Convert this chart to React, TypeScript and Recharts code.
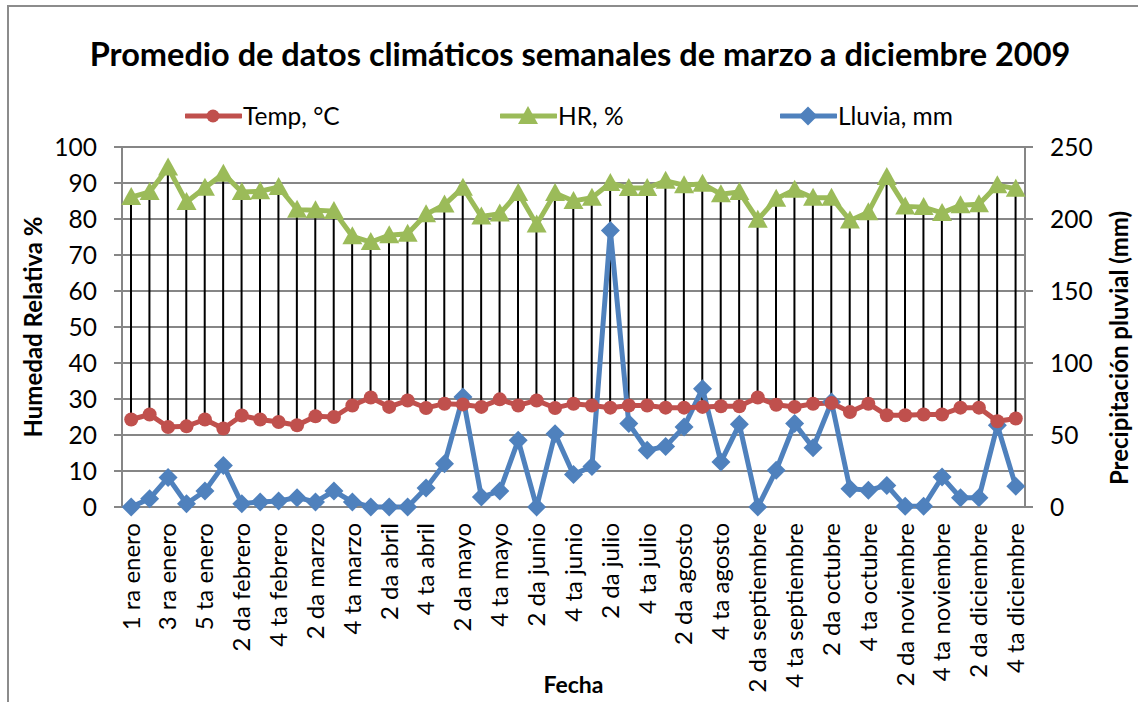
import { ComposedChart, Line, Bar, XAxis, YAxis, CartesianGrid } from 'recharts'

const semanas = [
  '1 ra enero', '2 da enero', '3 ra enero', '4 ta enero', '5 ta enero',
  '1 ra febrero', '2 da febrero', '3 ra febrero', '4 ta febrero',
  '1 ra marzo', '2 da marzo', '3 ra marzo', '4 ta marzo',
  '1 ra abril', '2 da abril', '3 ra abril', '4 ta abril',
  '1 ra mayo', '2 da mayo', '3 ra mayo', '4 ta mayo',
  '1 ra junio', '2 da junio', '3 ra junio', '4 ta junio',
  '1 ra julio', '2 da julio', '3 ra julio', '4 ta julio',
  '1 ra agosto', '2 da agosto', '3 ra agosto', '4 ta agosto',
  '1 ra septiembre', '2 da septiembre', '3 ra septiembre', '4 ta septiembre',
  '1 ra octubre', '2 da octubre', '3 ra octubre', '4 ta octubre',
  '1 ra noviembre', '2 da noviembre', '3 ra noviembre', '4 ta noviembre',
  '1 ra diciembre', '2 da diciembre', '3 ra diciembre', '4 ta diciembre',
]

const temp = [
  24.3, 25.7, 22.2, 22.4, 24.3, 21.8, 25.4, 24.3, 23.6, 22.7, 25.2, 25.0, 28.2,
  30.4, 27.8, 29.6, 27.5, 28.7, 28.5, 27.8, 29.9, 28.2, 29.6, 27.5, 28.7, 28.2,
  27.6, 28.2, 28.2, 27.6, 27.6, 27.8, 28.0, 28.0, 30.4, 28.4, 27.8, 28.7, 28.9,
  26.4, 28.7, 25.5, 25.5, 25.7, 25.7, 27.6, 27.6, 23.8, 24.6,
]

const hr = [
  86.1, 87.5, 94.3, 84.7, 88.7, 92.6, 87.5, 87.7, 88.9, 82.6, 82.4, 82.2, 75.2,
  73.6, 75.5, 75.9, 81.3, 84.0, 88.7, 80.7, 81.5, 87.2, 78.5, 87.2, 85.0, 85.9,
  90.0, 88.6, 88.6, 90.6, 89.4, 89.8, 86.9, 87.5, 79.8, 85.6, 88.1, 85.9, 85.9,
  79.6, 81.9, 91.7, 83.5, 83.3, 81.7, 83.8, 84.1, 89.4, 88.4,
]

const lluvia = [
  0, 5.8, 20.4, 2.3, 11.1, 28.9, 2.3, 3.5, 4.2, 6.5, 3.5, 11.1, 3.5,
  0, 0, 0, 13.2, 30.1, 76.4, 6.9, 11.1, 46.3, 0, 50.9, 22.5, 28.2,
  192.1, 57.9, 39.4, 42.1, 55.6, 82.2, 31.3, 57.4, 0, 25.5, 57.9, 41.2, 72.9,
  12.7, 11.6, 15.0, 0.5, 0.5, 20.8, 6.5, 6.5, 56.7, 14.4,
]

const ticksHR = [0, 10, 20, 30, 40, 50, 60, 70, 80, 90, 100]
const ticksLluvia = [0, 50, 100, 150, 200, 250]

const data = semanas.map((semana, i) => ({
  semana,
  temp: temp[i],
  hr: hr[i],
  lluvia: lluvia[i],
  rango: [temp[i], hr[i]],
}))

const RED = '#C0504D'
const GREEN = '#9BBB59'
const BLUE = '#4F81BD'
const GRAY = '#868686'
const FONT = 'Lato, "Open Sans", sans-serif'

function CatTick(props: any) {
  const { x, y, payload } = props
  return (
    <text
      x={x}
      y={y}
      transform={`rotate(-90 ${x} ${y})`}
      textAnchor="end"
      dy="0.35em"
      fontSize={24}
      fontFamily={FONT}
      fill="#000"
    >
      {payload.value}
    </text>
  )
}

function CircleDot(props: any) {
  const { cx, cy, index } = props
  if (cx == null || cy == null) return null
  return <circle key={index} cx={cx} cy={cy} r={7} fill={RED} />
}

function TriangleDot(props: any) {
  const { cx, cy, index } = props
  if (cx == null || cy == null) return null
  const s = 10
  return (
    <polygon
      key={index}
      points={`${cx},${cy - s} ${cx + s},${cy + s * 0.8} ${cx - s},${cy + s * 0.8}`}
      fill={GREEN}
    />
  )
}

function DiamondDot(props: any) {
  const { cx, cy, index } = props
  if (cx == null || cy == null) return null
  const s = 9.5
  return (
    <polygon
      key={index}
      points={`${cx},${cy - s} ${cx + s},${cy} ${cx},${cy + s} ${cx - s},${cy}`}
      fill={BLUE}
    />
  )
}

function AxisTitle({ x, y, text }: { x: number; y: number; text: string }) {
  return (
    <text
      x={x}
      y={y}
      transform={`rotate(-90 ${x} ${y})`}
      textAnchor="middle"
      dy="0.35em"
      fontSize={24}
      fontWeight="bold"
      fontFamily={FONT}
      fill="#000"
    >
      {text}
    </text>
  )
}

function LegendItem({
  color,
  label,
  shape,
  left,
}: {
  color: string
  label: string
  shape: string
  left: number
}) {
  let marker
  if (shape === 'circle') marker = <circle cx={28} cy={12} r={6.5} fill={color} />
  else if (shape === 'triangle') marker = <polygon points="28,2 38,20 18,20" fill={color} />
  else marker = <polygon points="28,2.5 37.5,12 28,21.5 18.5,12" fill={color} />
  return (
    <div style={{ position: 'absolute', left, top: 101, display: 'flex', alignItems: 'center' }}>
      <svg width={57} height={24}>
        <line x1={1} y1={12} x2={56} y2={12} stroke={color} strokeWidth={5} strokeLinecap="round" />
        {marker}
      </svg>
      <span style={{ fontSize: 24.5, marginLeft: 1, color: '#000' }}>{label}</span>
    </div>
  )
}

export default function App() {
  return (
    <div
      style={{
        position: 'absolute',
        left: 0,
        top: 0,
        width: 1138,
        height: 702,
        background: '#fff',
        fontFamily: FONT,
        overflow: 'hidden',
      }}
    >
      <div
        style={{
          position: 'absolute',
          left: 7,
          top: 5,
          width: 1200,
          height: 800,
          borderLeft: '2px solid #8c8c8c',
          borderTop: '2px solid #8c8c8c',
        }}
      />
      <div
        style={{
          position: 'absolute',
          left: 0,
          top: 34,
          width: 1160,
          textAlign: 'center',
          fontSize: 32.5,
          fontWeight: 'bold',
          color: '#000',
        }}
      >
        Promedio de datos climáticos semanales de marzo a diciembre 2009
      </div>
      <LegendItem color={RED} label="Temp, °C" shape="circle" left={185} />
      <LegendItem color={GREEN} label="HR, %" shape="triangle" left={500} />
      <LegendItem color={BLUE} label="Lluvia, mm" shape="diamond" left={780} />
      <div style={{ position: 'absolute', left: 0, top: 0 }}>
        <ComposedChart
          width={1138}
          height={702}
          data={data}
          margin={{ top: 147, right: 0, bottom: 0, left: 0 }}
        >
          <CartesianGrid yAxisId="left" vertical={false} stroke={GRAY} strokeWidth={2} />
          <XAxis
            dataKey="semana"
            interval={1}
            tick={<CatTick />}
            tickSize={0}
            tickMargin={16}
            height={195}
            axisLine={{ stroke: GRAY, strokeWidth: 2 }}
            label={{
              value: 'Fecha',
              position: 'center',
              dy: 80,
              fontSize: 23,
              fontWeight: 'bold',
              fill: '#000',
              fontFamily: FONT,
            }}
          />
          <YAxis
            yAxisId="left"
            domain={[0, 100]}
            ticks={ticksHR}
            width={122}
            tickSize={8}
            tickMargin={17}
            tick={{ fontSize: 24.5, fill: '#000', fontFamily: FONT }}
            axisLine={{ stroke: GRAY, strokeWidth: 2 }}
            tickLine={{ stroke: GRAY, strokeWidth: 2 }}
            label={{ content: () => <AxisTitle x={34} y={327} text="Humedad Relativa %" /> }}
          />
          <YAxis
            yAxisId="right"
            orientation="right"
            domain={[0, 250]}
            ticks={ticksLluvia}
            width={113}
            tickSize={8}
            tickMargin={17}
            tick={{ fontSize: 24.5, fill: '#000', fontFamily: FONT }}
            axisLine={{ stroke: GRAY, strokeWidth: 2 }}
            tickLine={{ stroke: GRAY, strokeWidth: 2 }}
            label={{
              content: () => <AxisTitle x={1120} y={348} text="Precipitación pluvial (mm)" />,
            }}
          />
          <Line
            yAxisId="right"
            dataKey="lluvia"
            stroke={BLUE}
            strokeWidth={5}
            dot={DiamondDot}
            activeDot={false}
            isAnimationActive={false}
          />
          <Bar yAxisId="left" dataKey="rango" barSize={2} fill="#000" isAnimationActive={false} />
          <Line
            yAxisId="left"
            dataKey="temp"
            stroke={RED}
            strokeWidth={5}
            dot={CircleDot}
            activeDot={false}
            isAnimationActive={false}
          />
          <Line
            yAxisId="left"
            dataKey="hr"
            stroke={GREEN}
            strokeWidth={5}
            dot={TriangleDot}
            activeDot={false}
            isAnimationActive={false}
          />
        </ComposedChart>
      </div>
    </div>
  )
}
